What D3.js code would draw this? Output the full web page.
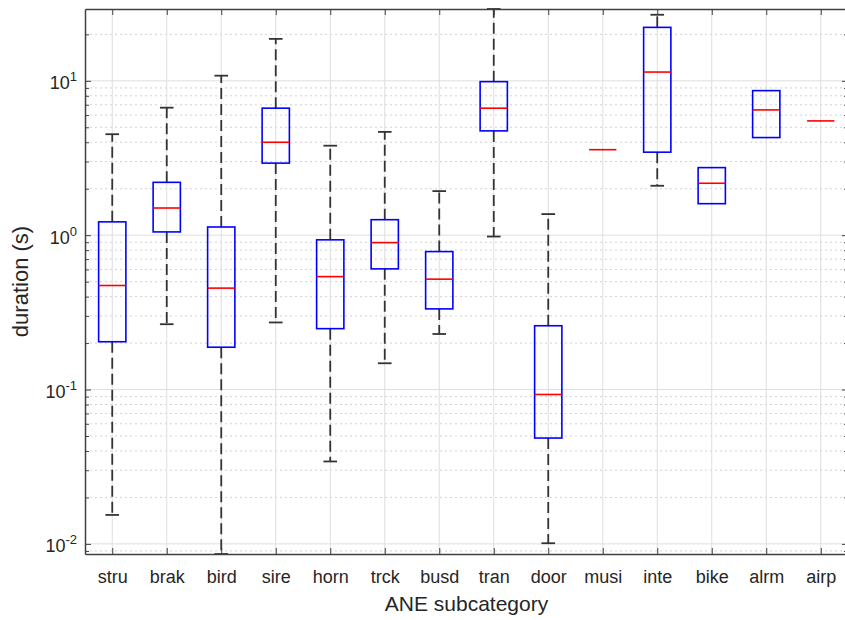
<!DOCTYPE html>
<html>
<head>
    <title>ANE subcategory durations</title>
    <style>
        body { margin: 0; background: #fff; }
        text { font-family: "Liberation Sans", Arial, Helvetica, sans-serif; fill: #262626; }
        .axis path, .axis line { stroke: #404040; }
    </style>
    <script src="https://d3js.org/d3.v7.min.js"></script>
</head>
<body>
<svg id="chart"></svg>
<script>
    // Box plot summary per subcategory
    const categories = ['stru', 'brak', 'bird', 'sire', 'horn', 'trck', 'busd', 'tran', 'door', 'musi', 'inte', 'bike', 'alrm', 'airp'];
    const whiskerLow = [0.0154, 0.265, 0.0086, 0.272, 0.0342, 0.148, 0.229, 0.98, 0.0101, 3.58, 2.09, 1.60, 4.29, 5.5];
    const q1 = [0.204, 1.05, 0.188, 2.93, 0.248, 0.605, 0.333, 4.74, 0.0485, 3.58, 3.45, 1.60, 4.29, 5.5];
    const median = [0.472, 1.5, 0.454, 4.0, 0.539, 0.895, 0.519, 6.65, 0.0929, 3.58, 11.4, 2.17, 6.48, 5.5];
    const q3 = [1.22, 2.2, 1.13, 6.65, 0.933, 1.26, 0.783, 9.88, 0.259, 3.58, 22.2, 2.74, 8.64, 5.5];
    const whiskerHigh = [4.51, 6.7, 10.8, 18.7, 3.8, 4.67, 1.93, 29.2, 1.37, 3.58, 26.8, 2.74, 8.64, 5.5];
    const majorTicks = [0.01, 0.1, 1, 10];

    const width = 845;
    const height = 620;
    const margin = {top: 9, right: -3, bottom: 66, left: 85};

    const svg = d3.select('#chart').attr('width', width).attr('height', height);

    const x = d3.scaleLinear()
        .domain([0.5, categories.length + 0.5])
        .range([margin.left, width - margin.right]);
    const y = d3.scaleLog()
        .domain([d3.min(whiskerLow), d3.max(whiskerHigh)])
        .range([height - margin.bottom, margin.top]);

    const step = x(2) - x(1);
    const boxW = step * 0.5;
    const capW = step * 0.25;

    // minor tick values 2..9 per decade inside the domain
    const minorTicks = [];
    [0.001, 0.01, 0.1, 1, 10].forEach(d => {
        for (let k = 2; k <= 9; k++) {
            const v = +(d * k).toPrecision(3);
            if (v >= y.domain()[0] && v <= y.domain()[1]) minorTicks.push(v);
        }
    });

    const x0 = x.range()[0], x1 = x.range()[1];
    const y0 = y.range()[1], y1 = y.range()[0];

    // Grid
    const grid = svg.append('g');
    grid.selectAll('.minor').data(minorTicks).enter().append('line')
        .attr('x1', x0).attr('x2', x1)
        .attr('y1', d => y(d)).attr('y2', d => y(d))
        .attr('stroke', '#d2d2d2').attr('stroke-dasharray', '2,3');
    grid.selectAll('.major').data(majorTicks).enter().append('line')
        .attr('x1', x0).attr('x2', x1)
        .attr('y1', d => y(d)).attr('y2', d => y(d))
        .attr('stroke', '#dedede');
    grid.selectAll('.vert').data(categories).enter().append('line')
        .attr('x1', (d, i) => x(i + 1)).attr('x2', (d, i) => x(i + 1))
        .attr('y1', y0).attr('y2', y1)
        .attr('stroke', '#dedede');

    // Boxes
    const plot = svg.append('g');
    const idx = d3.range(categories.length);
    const cx = i => x(i + 1);
    const wStyle = sel => sel.attr('stroke', '#333').attr('stroke-width', 1.8);

    // whiskers (dashed)
    plot.selectAll('.wUp').data(idx).enter().append('line')
        .attr('x1', cx).attr('x2', cx)
        .attr('y1', i => y(q3[i])).attr('y2', i => y(whiskerHigh[i]))
        .call(wStyle).attr('stroke-dasharray', '11,5');
    plot.selectAll('.wLo').data(idx).enter().append('line')
        .attr('x1', cx).attr('x2', cx)
        .attr('y1', i => y(q1[i])).attr('y2', i => y(whiskerLow[i]))
        .call(wStyle).attr('stroke-dasharray', '11,5');
    // caps (hidden under the box when a whisker has zero length)
    plot.selectAll('.capUp').data(idx.filter(i => whiskerHigh[i] > q3[i])).enter().append('line')
        .attr('x1', i => cx(i) - capW / 2).attr('x2', i => cx(i) + capW / 2)
        .attr('y1', i => y(whiskerHigh[i])).attr('y2', i => y(whiskerHigh[i]))
        .call(wStyle);
    plot.selectAll('.capLo').data(idx.filter(i => whiskerLow[i] < q1[i])).enter().append('line')
        .attr('x1', i => cx(i) - capW / 2).attr('x2', i => cx(i) + capW / 2)
        .attr('y1', i => y(whiskerLow[i])).attr('y2', i => y(whiskerLow[i]))
        .call(wStyle);
    // box (a single-value group has no visible box, only its median)
    plot.selectAll('.box').data(idx.filter(i => q3[i] > q1[i])).enter().append('rect')
        .attr('x', i => cx(i) - boxW / 2)
        .attr('width', boxW)
        .attr('y', i => y(q3[i]))
        .attr('height', i => y(q1[i]) - y(q3[i]))
        .attr('fill', 'none').attr('stroke', '#0000ff').attr('stroke-width', 1.6);
    // median
    plot.selectAll('.med').data(idx).enter().append('line')
        .attr('x1', i => cx(i) - boxW / 2).attr('x2', i => cx(i) + boxW / 2)
        .attr('y1', i => y(median[i])).attr('y2', i => y(median[i]))
        .attr('stroke', '#ff0000').attr('stroke-width', 1.6);

    // Axes
    const gLeft = svg.append('g').attr('class', 'axis').attr('transform', `translate(${x0},0)`)
        .call(d3.axisLeft(y).tickValues(majorTicks).tickSizeInner(-6).tickSizeOuter(0).tickPadding(8));
    gLeft.select('.domain').attr('stroke-width', 1.5);
    gLeft.selectAll('.tick text').each(function (d) {
        const t = d3.select(this).text('').attr('font-size', 18).attr('dy', '0.45em');
        t.append('tspan').text('10');
        t.append('tspan').text(Math.round(Math.log10(d))).attr('font-size', 13).attr('dy', -8);
    });
    svg.append('g').attr('class', 'axis').attr('transform', `translate(${x0},0)`)
        .call(d3.axisLeft(y).tickValues(minorTicks).tickSizeInner(-4).tickSizeOuter(0).tickFormat(''))
        .select('.domain').remove();

    svg.append('g').attr('class', 'axis').attr('transform', `translate(${x1},0)`)
        .call(d3.axisRight(y).tickValues(majorTicks).tickSizeInner(-6).tickSizeOuter(0).tickFormat(''));
    svg.append('g').attr('class', 'axis').attr('transform', `translate(${x1},0)`)
        .call(d3.axisRight(y).tickValues(minorTicks).tickSizeInner(-4).tickSizeOuter(0).tickFormat(''))
        .select('.domain').remove();

    const gBottom = svg.append('g').attr('class', 'axis').attr('transform', `translate(0,${y1})`)
        .call(d3.axisBottom(x).tickValues(idx.map(i => i + 1)).tickSizeInner(-6).tickSizeOuter(0)
            .tickPadding(16).tickFormat(d => categories[d - 1]));
    gBottom.select('.domain').attr('stroke-width', 1.5);
    gBottom.selectAll('.tick text').attr('font-size', 18);

    svg.append('g').attr('class', 'axis').attr('transform', `translate(0,${y0})`)
        .call(d3.axisTop(x).tickValues(idx.map(i => i + 1)).tickSizeInner(-6).tickSizeOuter(0).tickFormat(''))
        .select('.domain').attr('stroke-width', 1.5);

    svg.selectAll('.axis text').style('fill', '#262626').attr('font-family', '"Liberation Sans", Arial, sans-serif');

    // Axis labels
    svg.append('text')
        .attr('x', (x0 + 848) / 2).attr('y', 611)
        .attr('text-anchor', 'middle').attr('font-size', 21)
        .text('ANE subcategory');
    svg.append('text')
        .attr('transform', `translate(28,${(y0 + y1) / 2}) rotate(-90)`)
        .attr('text-anchor', 'middle').attr('font-size', 22)
        .text('duration (s)');
</script>
</body>
</html>
